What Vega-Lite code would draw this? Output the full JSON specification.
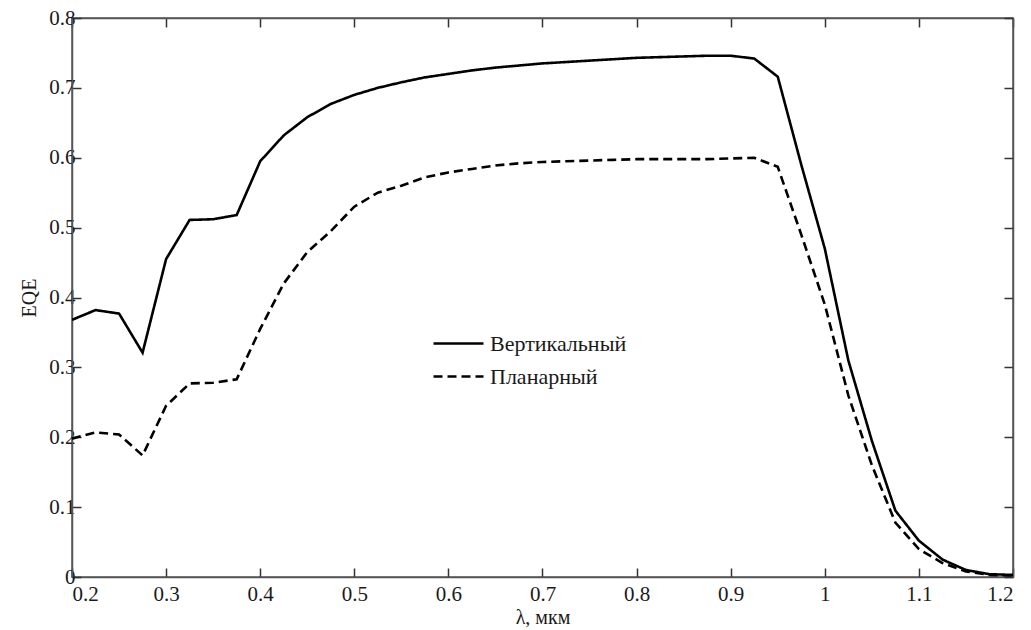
{
  "$schema": "https://vega.github.io/schema/vega-lite/v6.json",
  "autosize": {"type": "none"},
  "width": 941,
  "height": 559,
  "padding": {"left": 72, "top": 18, "right": 18, "bottom": 53},
  "background": "white",
  "config": {
    "view": {"stroke": "#555", "strokeWidth": 1.5},
    "font": "Liberation Serif, serif",
    "axis": {"grid": false, "domainColor": "#555", "domainWidth": 1.5, "tickColor": "#333", "labelFont": "Liberation Serif, serif", "titleFont": "Liberation Serif, serif", "labelColor": "#1a1a1a", "titleColor": "#1a1a1a", "labelFontSize": 21, "titleFontSize": 20, "titleFontWeight": "normal", "tickSize": -9, "tickWidth": 1.5}
  },
  "data": {"values": [
    {"x":0.2,"s":"Вертикальный","y":0.368},{"x":0.225,"s":"Вертикальный","y":0.382},{"x":0.25,"s":"Вертикальный","y":0.377},{"x":0.275,"s":"Вертикальный","y":0.321},{"x":0.3,"s":"Вертикальный","y":0.455},{"x":0.325,"s":"Вертикальный","y":0.511},{"x":0.35,"s":"Вертикальный","y":0.512},{"x":0.375,"s":"Вертикальный","y":0.518},{"x":0.4,"s":"Вертикальный","y":0.595},{"x":0.425,"s":"Вертикальный","y":0.632},{"x":0.45,"s":"Вертикальный","y":0.658},{"x":0.475,"s":"Вертикальный","y":0.677},{"x":0.5,"s":"Вертикальный","y":0.69},{"x":0.525,"s":"Вертикальный","y":0.7},{"x":0.55,"s":"Вертикальный","y":0.708},{"x":0.575,"s":"Вертикальный","y":0.715},{"x":0.6,"s":"Вертикальный","y":0.72},{"x":0.625,"s":"Вертикальный","y":0.725},{"x":0.65,"s":"Вертикальный","y":0.729},{"x":0.675,"s":"Вертикальный","y":0.732},{"x":0.7,"s":"Вертикальный","y":0.735},{"x":0.725,"s":"Вертикальный","y":0.737},{"x":0.75,"s":"Вертикальный","y":0.739},{"x":0.775,"s":"Вертикальный","y":0.741},{"x":0.8,"s":"Вертикальный","y":0.743},{"x":0.825,"s":"Вертикальный","y":0.744},{"x":0.85,"s":"Вертикальный","y":0.745},{"x":0.875,"s":"Вертикальный","y":0.746},{"x":0.9,"s":"Вертикальный","y":0.746},{"x":0.925,"s":"Вертикальный","y":0.742},{"x":0.95,"s":"Вертикальный","y":0.716},{"x":0.975,"s":"Вертикальный","y":0.59},{"x":1.0,"s":"Вертикальный","y":0.47},{"x":1.025,"s":"Вертикальный","y":0.31},{"x":1.05,"s":"Вертикальный","y":0.195},{"x":1.075,"s":"Вертикальный","y":0.095},{"x":1.1,"s":"Вертикальный","y":0.052},{"x":1.125,"s":"Вертикальный","y":0.025},{"x":1.15,"s":"Вертикальный","y":0.01},{"x":1.175,"s":"Вертикальный","y":0.004},{"x":1.2,"s":"Вертикальный","y":0.003},
    {"x":0.2,"s":"Планарный","y":0.198},{"x":0.225,"s":"Планарный","y":0.207},{"x":0.25,"s":"Планарный","y":0.204},{"x":0.275,"s":"Планарный","y":0.174},{"x":0.3,"s":"Планарный","y":0.245},{"x":0.325,"s":"Планарный","y":0.277},{"x":0.35,"s":"Планарный","y":0.278},{"x":0.375,"s":"Планарный","y":0.283},{"x":0.4,"s":"Планарный","y":0.355},{"x":0.425,"s":"Планарный","y":0.42},{"x":0.45,"s":"Планарный","y":0.465},{"x":0.475,"s":"Планарный","y":0.495},{"x":0.5,"s":"Планарный","y":0.53},{"x":0.525,"s":"Планарный","y":0.55},{"x":0.55,"s":"Планарный","y":0.56},{"x":0.575,"s":"Планарный","y":0.572},{"x":0.6,"s":"Планарный","y":0.579},{"x":0.625,"s":"Планарный","y":0.584},{"x":0.65,"s":"Планарный","y":0.589},{"x":0.675,"s":"Планарный","y":0.592},{"x":0.7,"s":"Планарный","y":0.594},{"x":0.725,"s":"Планарный","y":0.595},{"x":0.75,"s":"Планарный","y":0.596},{"x":0.775,"s":"Планарный","y":0.597},{"x":0.8,"s":"Планарный","y":0.598},{"x":0.825,"s":"Планарный","y":0.598},{"x":0.85,"s":"Планарный","y":0.598},{"x":0.875,"s":"Планарный","y":0.598},{"x":0.9,"s":"Планарный","y":0.599},{"x":0.925,"s":"Планарный","y":0.6},{"x":0.95,"s":"Планарный","y":0.587},{"x":0.975,"s":"Планарный","y":0.49},{"x":1.0,"s":"Планарный","y":0.39},{"x":1.025,"s":"Планарный","y":0.26},{"x":1.05,"s":"Планарный","y":0.16},{"x":1.075,"s":"Планарный","y":0.078},{"x":1.1,"s":"Планарный","y":0.04},{"x":1.125,"s":"Планарный","y":0.02},{"x":1.15,"s":"Планарный","y":0.008},{"x":1.175,"s":"Планарный","y":0.003},{"x":1.2,"s":"Планарный","y":0.002}
  ]},
  "layer": [
    {
      "mark": {"type": "line", "color": "black", "strokeWidth": 2.6, "clip": true},
      "encoding": {
        "x": {"field": "x", "type": "quantitative", "scale": {"domain": [0.2, 1.2], "nice": false},
          "axis": {"values": [0.2,0.3,0.4,0.5,0.6,0.7,0.8,0.9,1.0,1.1,1.2], "labelExpr": "format(datum.value, '~g')", "title": "λ, мкм", "labelPadding": 15, "titlePadding": 3, "domain": true}},
        "y": {"field": "y", "type": "quantitative", "scale": {"domain": [0, 0.8], "nice": false},
          "axis": {"values": [0,0.1,0.2,0.3,0.4,0.5,0.6,0.7,0.8], "labelExpr": "format(datum.value, '~g')", "title": "EQE", "labelPadding": 6, "titlePadding": 9}},
        "strokeDash": {"field": "s", "type": "nominal",
          "scale": {"domain": ["Вертикальный", "Планарный"], "range": [[1, 0], [9, 5]]},
          "legend": {"orient": "none", "legendX": 375, "legendY": 314, "title": null, "symbolType": "M-2.5,0H2.5", "symbolSize": 400, "symbolStrokeWidth": 2.6, "symbolStrokeColor": "black", "symbolFillColor": "transparent", "labelFont": "Liberation Serif, serif", "labelFontSize": 22, "labelColor": "#1a1a1a", "rowPadding": 10, "labelOffset": 20, "labelLimit": 400}}
      }
    },
    {
      "mark": {"type": "rule", "opacity": 0},
      "encoding": {
        "x": {"datum": 0.2, "type": "quantitative", "axis": {"orient": "top", "values": [0.2,0.3,0.4,0.5,0.6,0.7,0.8,0.9,1.0,1.1,1.2], "labels": false, "title": null}},
        "y": {"datum": 0, "type": "quantitative", "axis": {"orient": "right", "values": [0,0.1,0.2,0.3,0.4,0.5,0.6,0.7,0.8], "labels": false, "title": null}}
      }
    }
  ],
  "resolve": {"axis": {"x": "independent", "y": "independent"}}
}
